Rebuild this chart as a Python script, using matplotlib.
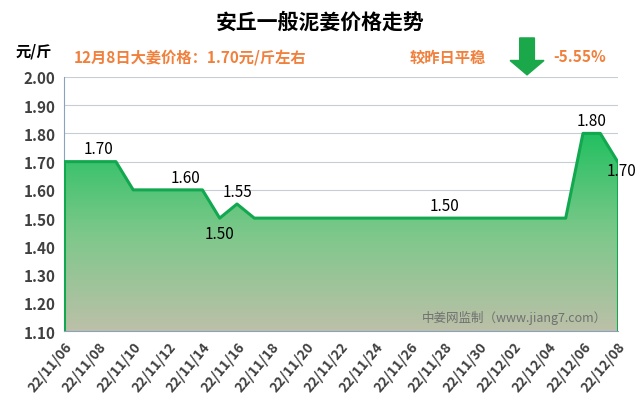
import numpy as np
import matplotlib
matplotlib.use('Agg')
import matplotlib.pyplot as plt
from matplotlib.colors import LinearSegmentedColormap

plt.rcParams['font.family'] = 'Noto Sans CJK SC'

# daily prices 22/11/06 .. 22/12/08
dates = ['22/11/%02d' % d for d in range(6, 31)] + ['22/12/%02d' % d for d in range(1, 9)]
prices = [1.70, 1.70, 1.70, 1.70, 1.60, 1.60, 1.60, 1.60, 1.60, 1.50, 1.55] + \
         [1.50] * 19 + [1.80, 1.80, 1.70]
tick_labels = dates[::2]
yticks = [1.1 + 0.1 * i for i in range(10)]
labels = [(2, 1.70, '1.70'), (7, 1.60, '1.60'), (9, 1.50, '1.50'), (10, 1.55, '1.55'),
          (22, 1.50, '1.50'), (30.5, 1.80, '1.80'), (31.7, 1.70, '1.70')]

fig = plt.figure(figsize=(6.4, 4.1), dpi=100)
ax = fig.add_axes([0.1, 0.19, 0.865, 0.62])
x = np.arange(len(prices))
ymin, ymax = 1.1, 2.0

# gradient fill under the line
cmap = LinearSegmentedColormap.from_list('g', ['#bcc0a8', '#7cc88a', '#22c060'])
grad = np.linspace(0, 1, 256).reshape(-1, 1)
im = ax.imshow(grad, extent=[0, len(prices) - 1, ymin, max(prices)], origin='lower',
               aspect='auto', cmap=cmap, zorder=1)
poly = ax.fill_between(x, prices, ymin, color='none')
im.set_clip_path(poly.get_paths()[0], transform=ax.transData)
ax.plot(x, prices, color='#12a850', lw=2.2, zorder=3)
ax.plot([0, 0], [ymin, prices[0]], color='#12a850', lw=2.2, zorder=3)
ax.plot([x[-1], x[-1]], [ymin, prices[-1]], color='#12a850', lw=2.2, zorder=3)

for xi, yi, t in labels:
    dy = -0.055 if (xi == 9) else 0.045
    if xi == 31.7:
        dy = -0.03
        xi = 32.2
    ax.text(xi, yi + dy, t, ha='center', va='center', fontsize=11, zorder=4, clip_on=False)

ax.set_xlim(0, len(prices) - 1)
ax.set_ylim(ymin, ymax)
ax.set_yticks(yticks)
ax.set_yticklabels(['%.2f' % v for v in yticks], fontsize=11, fontweight='bold', color='#404040')
ax.set_xticks(x[::2])
ax.set_xticklabels(tick_labels, rotation=50, ha='right', fontsize=10, fontweight='bold',
                   color='#404040', rotation_mode='anchor')
ax.grid(axis='y', color='#c8ccd4', lw=0.8)
ax.set_axisbelow(True)
for s in ['top', 'right']:
    ax.spines[s].set_visible(False)
ax.spines['left'].set_color('#8ea0c0')
ax.spines['bottom'].set_color('#8ea0c0')
ax.tick_params(length=0, pad=6)

fig.text(0.5, 0.945, '安丘一般泥姜价格走势', ha='center', va='center', fontsize=15, fontweight='bold')
fig.text(0.025, 0.875, '元/斤', fontsize=11, fontweight='bold', va='center')
fig.text(0.115, 0.86, '12月8日大姜价格：1.70元/斤左右', fontsize=11, fontweight='bold',
         color='#f0803c', va='center')
fig.text(0.64, 0.86, '较昨日平稳', fontsize=11, fontweight='bold', color='#f0803c', va='center')
fig.text(0.865, 0.86, '-5.55%', fontsize=11, fontweight='bold', color='#f0803c', va='center')
fig.patches.append(plt.Polygon([[0.812, 0.905], [0.835, 0.905], [0.835, 0.85], [0.85, 0.85],
                                [0.8235, 0.815], [0.797, 0.85], [0.812, 0.85]],
                               closed=True, transform=fig.transFigure, color='#1aa84a'))
ax.text(0.98, 0.04, '中姜网监制（www.jiang7.com）', transform=ax.transAxes, ha='right',
        fontsize=9, color='#707070', zorder=5)

fig.savefig('out.png', dpi=100)
